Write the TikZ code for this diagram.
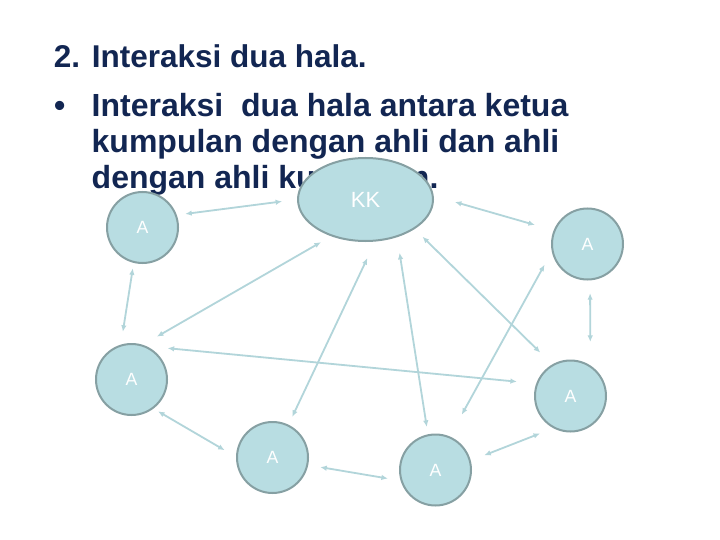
\documentclass[tikz,border=0pt]{standalone}
\usepackage{fontspec}
\setmainfont{Liberation Sans}
\usetikzlibrary{arrows.meta,shapes.geometric}
\definecolor{navy}{RGB}{18,38,82}
\definecolor{nodefill}{RGB}{184,221,226}
\definecolor{nodeedge}{RGB}{134,160,163}
\definecolor{linkcol}{RGB}{178,213,218}
\begin{document}
\begin{tikzpicture}[x=1pt,y=-1pt,
  txt/.style={anchor=base west,inner sep=0pt,text=navy,font=\fontsize{32}{38}\selectfont\bfseries},
  member/.style={circle,draw=nodeedge,fill=nodefill,line width=2pt,minimum size=71pt,inner sep=0pt,text=white,font=\fontsize{17.7}{20}\selectfont},
  leader/.style={ellipse,draw=nodeedge,fill=nodefill,line width=2pt,minimum width=135pt,minimum height=83pt,inner sep=0pt,text=white,font=\fontsize{22}{26}\selectfont},
  link/.style={draw=linkcol,line width=1.8pt,{Latex[length=6.5pt,width=5.5pt]}-{Latex[length=6.5pt,width=5.5pt]}}
]
\useasboundingbox[fill=white] (0,0) rectangle (720,540);

% text
\node[txt,font=\fontsize{31.5}{38}\selectfont\bfseries] (title) at (53.7,67.5) {2. Interaksi dua hala.};
\node[txt] (bul) at (54,116.5) {•};
\node[txt] (l1) at (91.5,116.5) {Interaksi~ dua hala antara ketua};
\node[txt] (l2) at (91.5,152.5) {kumpulan dengan ahli dan ahli};
\node[txt] (l3) at (91.5,188.5) {dengan ahli kumpulan.};

% nodes
\node[leader] (KK) at (365.5,199.5) {KK};
\node[member] (A1) at (142.5,227.5) {A};
\node[member] (A2) at (587.5,244) {A};
\node[member] (A3) at (131.5,379.5) {A};
\node[member] (A4) at (272.5,457.5) {A};
\node[member] (A5) at (570.5,396) {A};
\node[member] (A6) at (435.5,470) {A};

% connectors
\draw[link,shorten <=8.5pt,shorten >=15pt] (A1.20) -- (KK.180);
\draw[link,shorten <=22pt,shorten >=19.5pt] (KK.3) -- (A2.158);
\draw[link,shorten <=5.5pt,shorten >=13pt] (A1.256) -- (A3.107);
\draw[link,shorten <=11.8pt,shorten >=16.3pt] (KK.227) -- (A3.72);
\draw[link,shorten <=18.3pt,shorten >=8.7pt] (KK.283) -- (A4.64);
\draw[link,shorten <=15.8pt,shorten >=7.5pt] (KK.310) -- (A6.102);
\draw[link,shorten <=10.9pt,shorten >=16.8pt] (KK.329) -- (A5.120);
\draw[link,shorten <=15pt,shorten >=24.8pt] (A2.192) -- (A6.67);
\draw[link,shorten <=12.8pt,shorten >=23.5pt] (A2.274) -- (A5.57);
\draw[link,shorten <=21.4pt,shorten >=19.4pt] (A3.66) -- (A5.160);
\draw[link,shorten <=5.3pt,shorten >=13.1pt] (A3.307) -- (A4.179);
\draw[link,shorten <=12.2pt,shorten >=12.9pt] (A4.348) -- (A6.197);
\draw[link,shorten <=14.3pt,shorten >=14.5pt] (A5.242) -- (A6.15);
\end{tikzpicture}
\end{document}
